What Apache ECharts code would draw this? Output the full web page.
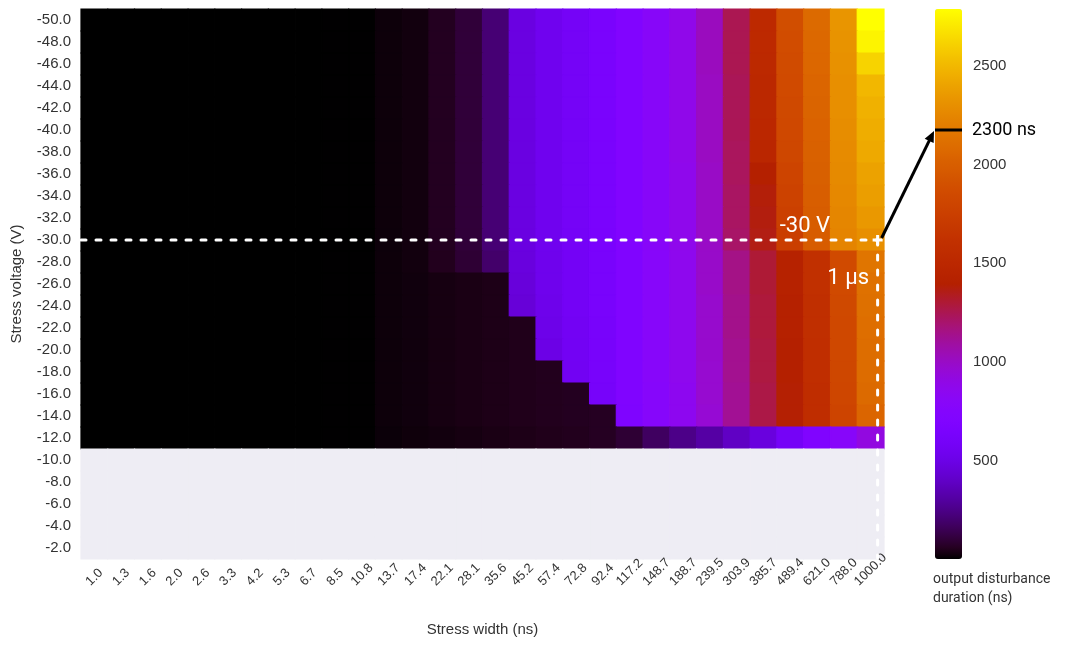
<!DOCTYPE html>
<html><head><meta charset="utf-8">
<script src="https://cdn.jsdelivr.net/npm/echarts@6/dist/echarts.min.js"></script>
<style>html,body{margin:0;padding:0;background:#fff}#c{width:1068px;height:645px}</style>
</head><body><div id="c"></div>
<script>
// Stress width categories (x axis, ns)
const widths = ['1.0','1.3','1.6','2.0','2.6','3.3','4.2','5.3','6.7','8.5','10.8','13.7','17.4','22.1','28.1','35.6','45.2','57.4','72.8','92.4','117.2','148.7','188.7','239.5','303.9','385.7','489.4','621.0','788.0','1000.0'];
// Stress voltage categories (y axis, V), top to bottom
const voltages = ['-50.0','-48.0','-46.0','-44.0','-42.0','-40.0','-38.0','-36.0','-34.0','-32.0','-30.0','-28.0','-26.0','-24.0','-22.0','-20.0','-18.0','-16.0','-14.0','-12.0','-10.0','-8.0','-6.0','-4.0','-2.0'];
// Voltages that have measurements (the rest are empty)
const measuredVoltages = voltages.slice(0, 20);
// Output disturbance duration (ns); one row per measured voltage, one value per stress width
const durations = [
 [0,0,0,0,0,0,0,0,0,1,2,18,24,55,100,210,480,540,590,640,710,790,880,1020,1250,1520,1880,2080,2330,2790],
 [0,0,0,0,0,0,0,0,0,1,2,18,24,55,100,210,480,540,590,640,710,790,880,1020,1250,1520,1870,2070,2320,2750],
 [0,0,0,0,0,0,0,0,0,1,2,18,24,55,100,210,480,540,590,640,710,790,880,1020,1250,1510,1860,2060,2310,2620],
 [0,0,0,0,0,0,0,0,0,1,2,18,24,55,100,210,480,540,590,640,710,790,880,1010,1240,1500,1850,2050,2300,2500],
 [0,0,0,0,0,0,0,0,0,1,2,18,24,55,100,210,480,540,590,640,710,790,880,1010,1240,1500,1840,2040,2300,2470],
 [0,0,0,0,0,0,0,0,0,1,2,18,24,55,100,210,480,540,590,640,710,790,880,1010,1240,1490,1830,2030,2290,2450],
 [0,0,0,0,0,0,0,0,0,1,2,18,24,55,100,210,480,540,590,640,710,790,880,1010,1230,1480,1820,2020,2280,2430],
 [0,0,0,0,0,0,0,0,0,1,2,18,24,55,100,210,480,540,590,640,710,790,870,1000,1230,1400,1800,2010,2270,2400],
 [0,0,0,0,0,0,0,0,0,1,2,18,24,55,100,210,480,540,590,640,710,790,870,1000,1220,1380,1780,2000,2260,2380],
 [0,0,0,0,0,0,0,0,0,1,2,18,24,55,100,210,480,540,590,640,710,790,870,1000,1220,1370,1760,1990,2250,2350],
 [0,0,0,0,0,0,0,0,0,1,2,18,24,55,100,210,480,540,590,640,710,790,870,1000,1210,1360,1740,1980,2240,2300],
 [0,0,0,0,0,0,0,0,0,1,2,18,24,50,90,190,470,530,580,630,700,780,860,990,1150,1300,1420,1600,1850,2150],
 [0,0,0,0,0,0,0,0,0,1,2,18,22,30,35,40,460,530,580,630,700,780,860,990,1150,1300,1420,1600,1850,2130],
 [0,0,0,0,0,0,0,0,0,1,2,18,22,30,35,40,450,520,580,630,700,780,860,980,1140,1290,1410,1590,1840,2120],
 [0,0,0,0,0,0,0,0,0,1,2,18,22,30,35,40,45,510,570,620,700,780,860,980,1140,1290,1410,1590,1830,2110],
 [0,0,0,0,0,0,0,0,0,1,2,18,22,30,35,40,45,500,570,620,700,780,860,980,1130,1280,1400,1580,1830,2100],
 [0,0,0,0,0,0,0,0,0,1,2,18,22,30,35,40,45,50,560,620,700,780,860,970,1130,1280,1400,1580,1820,2090],
 [0,0,0,0,0,0,0,0,0,1,2,18,22,30,35,40,45,50,55,610,700,770,850,970,1120,1270,1390,1570,1810,2080],
 [0,0,0,0,0,0,0,0,0,1,2,18,22,30,35,40,45,50,55,60,690,770,850,960,1120,1270,1390,1570,1800,2050],
 [0,0,0,0,0,0,0,0,0,1,2,15,20,25,30,35,40,45,50,60,90,170,250,310,390,470,590,700,780,920]
];
const colorbarTicks = [500, 1000, 1500, 2000, 2500];
const colorMin = 0, colorMax = 2790;

// matplotlib "gnuplot" colormap
function gnuplot(t) {
  const r = Math.sqrt(t), g = t * t * t, b = Math.max(0, Math.sin(2 * Math.PI * t));
  const h = v => Math.round(Math.min(1, Math.max(0, v)) * 255).toString(16).padStart(2, '0');
  return '#' + h(r) + h(g) + h(b);
}
const cmap = [];
for (let i = 0; i <= 64; i++) cmap.push(gnuplot(i / 64));

const heatData = [];
measuredVoltages.forEach((v, i) => widths.forEach((w, j) => heatData.push([w, v, durations[i][j]])));
const emptyData = [];
voltages.slice(20).forEach(v => widths.forEach(w => emptyData.push([w, v, 1])));

function cellRenderer(fixedColor) {
  return function (params, api) {
    const c = api.coord([api.value(0), api.value(1)]);
    const s = api.size([1, 1]);
    const col = fixedColor || api.visual('color');
    return {type: 'rect', shape: {x: c[0] - s[0] / 2, y: c[1] - s[1] / 2, width: s[0], height: s[1]},
            style: {fill: col, stroke: col, lineWidth: 1.2}};
  };
}

const TICK = 'Liberation Sans, Arial, sans-serif';
const ANNO = 'Roboto, sans-serif';

// rotated x labels: centred on the tick, bottoms aligned (label-length dependent padding)
const XFS = 13, XMARGIN = 9, XBOTTOM = 587, GRID_BOTTOM = 559;
const xRich = {};
[3, 4, 5, 6].forEach(n => {
  const w = (n - 1) * 0.556 * XFS + 0.278 * XFS;
  const E = (w + 0.72 * XFS) / Math.SQRT2;
  const d = Math.max(0, XBOTTOM - (GRID_BOTTOM + XMARGIN) - E / 2);
  const pad = Math.SQRT2 * d;
  xRich['s' + n] = {fontSize: XFS, fontFamily: TICK, color: '#333', padding: [pad, pad, 0, 0]};
});

const chart = echarts.init(document.getElementById('c'), null, {renderer: 'canvas'});
chart.setOption({
  animation: false,
  backgroundColor: '#ffffff',
  grid: [
    {left: 81, right: 184, top: 9, height: 550, containLabel: false, outerBoundsMode: 'none'},
    {left: 935, width: 27, top: 9, height: 550, containLabel: false, outerBoundsMode: 'none'}
  ],
  xAxis: [
    {type: 'category', data: widths, gridIndex: 0, z: 10,
     axisLine: {show: false}, axisTick: {show: false}, splitLine: {show: false},
     axisLabel: {interval: 0, rotate: 45, align: 'center', verticalAlign: 'middle', margin: XMARGIN,
                 fontSize: XFS, color: '#333', fontFamily: TICK,
                 formatter: v => '{s' + Math.min(6, Math.max(3, v.length)) + '|' + v + '}', rich: xRich},
     name: 'Stress width (ns)', nameLocation: 'middle', nameGap: 63,
     nameTextStyle: {fontSize: 15, color: '#333', fontFamily: TICK}},
    {type: 'value', gridIndex: 1, show: false}
  ],
  yAxis: [
    {type: 'category', data: voltages, inverse: true, gridIndex: 0,
     axisLine: {show: false}, axisTick: {show: false}, splitLine: {show: false},
     axisLabel: {margin: 10, fontSize: 15, color: '#333', fontFamily: TICK},
     name: 'Stress voltage (V)', nameLocation: 'middle', nameGap: 57,
     nameTextStyle: {fontSize: 15, color: '#333', fontFamily: TICK}},
    {type: 'value', gridIndex: 1, min: colorMin, max: colorMax, interval: 500, position: 'right',
     axisLine: {show: false}, axisTick: {show: false}, splitLine: {show: false},
     axisLabel: {margin: 11, fontSize: 15, color: '#333', fontFamily: TICK, showMaxLabel: false,
                 formatter: v => colorbarTicks.includes(v) ? String(v) : ''}}
  ],
  visualMap: {
    type: 'continuous', seriesIndex: 0, dimension: 2, min: colorMin, max: colorMax, calculable: false,
    orient: 'vertical', left: 935, top: 9, itemWidth: 27, itemHeight: 550, padding: 0,
    hoverLink: false, inRange: {color: cmap}
  },
  series: [
    {type: 'custom', xAxisIndex: 0, yAxisIndex: 0, data: heatData, encode: {x: 0, y: 1},
     renderItem: cellRenderer(null), progressive: 0},
    {type: 'custom', xAxisIndex: 0, yAxisIndex: 0, data: emptyData, encode: {x: 0, y: 1},
     renderItem: cellRenderer('#eeedf4')}
  ]
});

// Annotations
const p = chart.convertToPixel({gridIndex: 0}, ['1000.0', '-30.0']);
const gx = chart.convertToPixel({gridIndex: 0}, ['1.0', '-30.0']);
const cellW = (p[0] - gx[0]) / 29;
const left = gx[0] - cellW / 2, vx = p[0] + 7, vy = p[1];
const bottom = chart.convertToPixel({gridIndex: 0}, ['1.0', '-2.0'])[1] + 10;
const tip = [934, 131], start = [vx + 4, vy - 2];
const dx = tip[0] - start[0], dy = tip[1] - start[1], L = Math.hypot(dx, dy);
const ux = dx / L, uy = dy / L, nx = -uy, ny = ux;
const ah = 11, aw = 5;
const dash = {stroke: '#fff', lineWidth: 3, lineDash: [5, 10], lineCap: 'round'};
chart.setOption({graphic: [
  {type: 'line', shape: {x1: left, y1: vy, x2: vx, y2: vy}, style: dash, z: 100},
  {type: 'line', shape: {x1: vx, y1: vy, x2: vx, y2: bottom}, style: dash, z: 100},
  {type: 'line', shape: {x1: vx - 5, y1: vy, x2: vx + 5, y2: vy}, style: {stroke: '#fff', lineWidth: 3}, z: 100},
  {type: 'line', shape: {x1: vx, y1: vy - 5, x2: vx, y2: vy + 5}, style: {stroke: '#fff', lineWidth: 3}, z: 100},
  {type: 'line', shape: {x1: start[0], y1: start[1], x2: tip[0] - ux * ah * 0.8, y2: tip[1] - uy * ah * 0.8}, style: {stroke: '#000', lineWidth: 3}, z: 100},
  {type: 'polygon', shape: {points: [tip, [tip[0] - ux * ah + nx * aw, tip[1] - uy * ah + ny * aw], [tip[0] - ux * ah - nx * aw, tip[1] - uy * ah - ny * aw]]}, style: {fill: '#000'}, z: 100},
  {type: 'line', shape: {x1: 935, y1: 130, x2: 962, y2: 130}, style: {stroke: '#000', lineWidth: 3}, z: 100},
  {type: 'text', x: 972, y: 130, style: {text: '2300 ns', fill: '#000', font: '18px ' + ANNO, textVerticalAlign: 'middle'}, z: 100},
  {type: 'text', x: 830, y: 226, style: {text: '-30 V', fill: '#fff', font: '22px ' + ANNO, textAlign: 'right', textVerticalAlign: 'middle'}, z: 100},
  {type: 'text', x: 869, y: 278, style: {text: '1 µs', fill: '#fff', font: '22px ' + ANNO, textAlign: 'right', textVerticalAlign: 'middle'}, z: 100},
  {type: 'text', x: 933, y: 570, style: {text: 'output disturbance\nduration (ns)', fill: '#333', font: '14px ' + ANNO, lineHeight: 19, textVerticalAlign: 'top'}, z: 100}
]});
</script>
</body></html>
